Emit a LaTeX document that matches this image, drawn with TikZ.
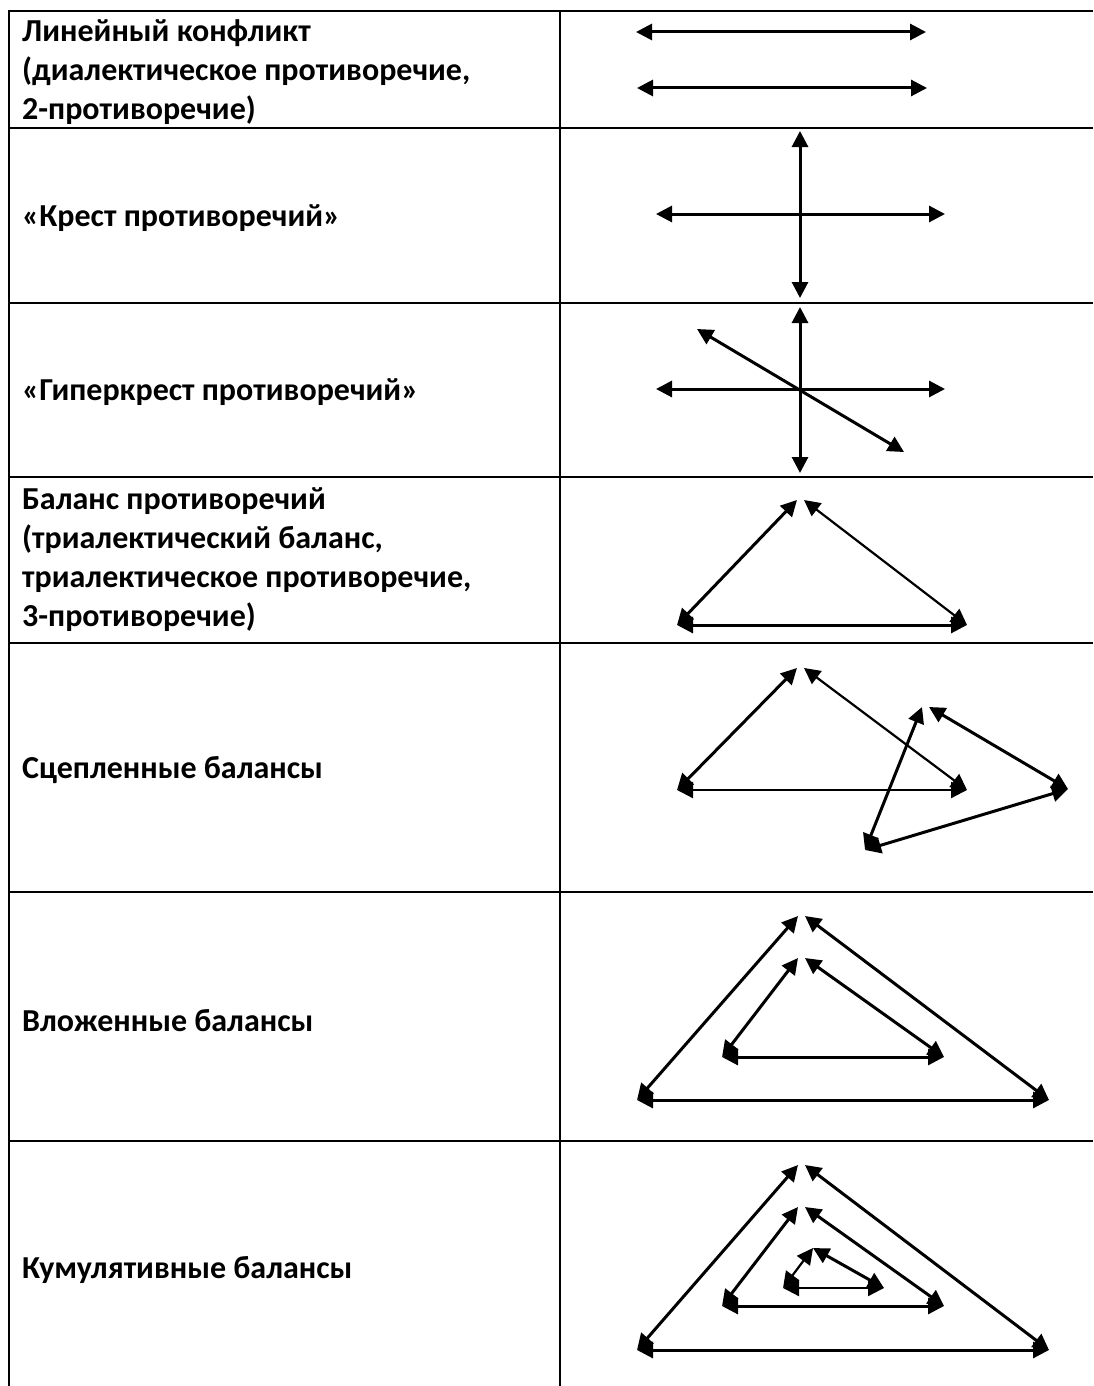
\documentclass[tikz,border=0pt]{standalone}
\usepackage{fontspec}
\setmainfont{Carlito}
\usetikzlibrary{arrows.meta}

\begin{document}
\begin{tikzpicture}[x=1pt,y=-1pt,
  rule/.style={line width=1.6pt},
  label/.style={anchor=west,align=left,inner sep=0pt,
    font=\fontsize{32}{39}\selectfont\bfseries},
  twoway/.style={{Triangle[length=16pt,width=16pt]}-{Triangle[length=16pt,width=16pt]},
    line width=3pt},
  thin2way/.style={twoway,line width=2.2pt},
]
  \useasboundingbox[fill=white] (0,0) rectangle (1093,1386);

  % table grid
  \coordinate (tl) at (9,11);
  \coordinate (bl) at (9,1386);
  \coordinate (mt) at (560,11);
  \coordinate (mb) at (560,1386);
  \draw[rule] (bl) -- (tl) -- (1093,11);
  \draw[rule,line width=2.2pt] (mt) -- (mb);
  \foreach \y in {128,303,477,643,892,1141}
    \draw[rule] (9,\y) -- (1093,\y);

  % left column
  \node[label] (linear) at (22,72) {Линейный конфликт\\(диалектическое противоречие,\\2-противоречие)};
  \node[label] (cross) at (22,218) {«Крест противоречий»};
  \node[label] (hyper) at (22,392) {«Гиперкрест противоречий»};
  \node[label] (bal) at (22,560) {Баланс противоречий\\(триалектический баланс,\\триалектическое противоречие,\\3-противоречие)};
  \node[label] (linked) at (22,770) {Сцепленные балансы};
  \node[label] (nested) at (22,1021) {Вложенные балансы};
  \node[label] (cumul) at (22,1270) {Кумулятивные балансы};

  % row 1: linear conflict
  \coordinate (l1a) at (636,32);  \coordinate (l1b) at (926,32);
  \coordinate (l2a) at (637,88);  \coordinate (l2b) at (927,88);
  \draw[twoway] (l1a) -- (l1b);
  \draw[twoway] (l2a) -- (l2b);

  % row 2: cross
  \coordinate (cw) at (656,214);  \coordinate (ce) at (945,214);
  \coordinate (cn) at (800,131);  \coordinate (cs) at (800,298);
  \draw[twoway] (cw) -- (ce);
  \draw[twoway] (cn) -- (cs);

  % row 3: hypercross
  \coordinate (hw) at (656,389);  \coordinate (he) at (945,389);
  \coordinate (hn) at (800,307);  \coordinate (hs) at (800,473);
  \coordinate (hnw) at (697,329); \coordinate (hse) at (904,452);
  \draw[twoway] (hw) -- (he);
  \draw[twoway] (hn) -- (hs);
  \draw[twoway] (hnw) -- (hse);

  % row 4: balance
  \coordinate (b1t) at (800,500); \coordinate (b1l) at (677,625); \coordinate (b1r) at (967,625);
  \draw[twoway] (b1l) -- ([xshift=-3pt]b1t);
  \draw[thin2way] ([xshift=4pt]b1t) -- (b1r);
  \draw[twoway] (b1l) -- (b1r);

  % row 5: linked balances
  \coordinate (s1t) at (800,668); \coordinate (s1l) at (677,790); \coordinate (s1r) at (967,790);
  \coordinate (s2t) at (925,707); \coordinate (s2l) at (865,850); \coordinate (s2r) at (1068,789);
  \draw[twoway] (s1l) -- ([xshift=-3pt]s1t);
  \draw[thin2way] ([xshift=4pt]s1t) -- (s1r);
  \draw[thin2way] (s1l) -- (s1r);
  \draw[twoway] (s2l) -- ([xshift=-3pt]s2t);
  \draw[twoway] ([xshift=4pt]s2t) -- (s2r);
  \draw[twoway] (s2l) -- (s2r);

  % row 6: nested balances
  \coordinate (n1t) at (801,916);  \coordinate (n1l) at (637,1100); \coordinate (n1r) at (1049,1100);
  \coordinate (n2t) at (801,958);  \coordinate (n2l) at (722,1057); \coordinate (n2r) at (944,1057);
  \foreach \t in {n1,n2} {
    \draw[twoway] (\t l) -- ([xshift=-3pt]\t t);
    \draw[twoway] ([xshift=4pt]\t t) -- (\t r);
    \draw[twoway] (\t l) -- (\t r);
  }

  % row 7: cumulative balances
  \coordinate (k1t) at (801,1165); \coordinate (k1l) at (637,1350); \coordinate (k1r) at (1049,1350);
  \coordinate (k2t) at (801,1207); \coordinate (k2l) at (722,1306); \coordinate (k2r) at (944,1306);
  \coordinate (k3t) at (813,1248); \coordinate (k3l) at (783,1288); \coordinate (k3r) at (884,1288);
  \foreach \t in {k1,k2} {
    \draw[twoway] (\t l) -- ([xshift=-3pt]\t t);
    \draw[twoway] ([xshift=4pt]\t t) -- (\t r);
    \draw[twoway] (\t l) -- (\t r);
  }
  \draw[thin2way] (k3l) -- (k3t);
  \draw[twoway] (k3t) -- (k3r);
  \draw[thin2way] (k3l) -- (k3r);
\end{tikzpicture}
\end{document}
